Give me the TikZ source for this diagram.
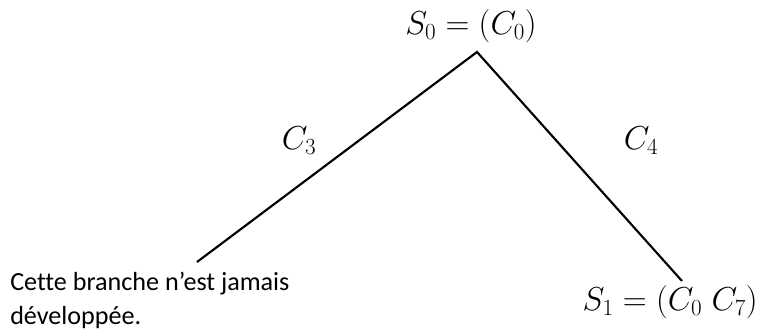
\documentclass[tikz,border=0pt]{standalone}
\usepackage{fontspec}
\setmainfont[Ligatures=NoCommon]{Carlito}
\usetikzlibrary{positioning}

\begin{document}
\begin{tikzpicture}[x=0.75pt,y=-0.75pt]
\tikzset{branch/.style={line width=1.6pt},
  lab/.style={inner sep=0pt,font=\fontsize{23.5}{28}\selectfont},
  note/.style={inner sep=0pt,font=\fontsize{19.6}{25.5}\selectfont,align=left}}
\useasboundingbox (0,0) rectangle (765,336);

\coordinate (root) at (477,52);
\coordinate (left) at (197,262);
\coordinate (right) at (682,281);

\draw[branch] (left) -- (root) -- (right);

\node[lab] (s0) at (471,26) {$S_0=(C_0)$};
\node[lab] (c3) at (299,141) {$C_3$};
\node[lab] (c4) at (641,141) {$C_4$};
\node[lab,anchor=east] (s1) at (758,302) {$S_1=(C_0\;C_7)$};

\node[note,anchor=north west] (nodev) at (10,272) {Cette branche n’est jamais\\développée.};
\end{tikzpicture}
\end{document}
